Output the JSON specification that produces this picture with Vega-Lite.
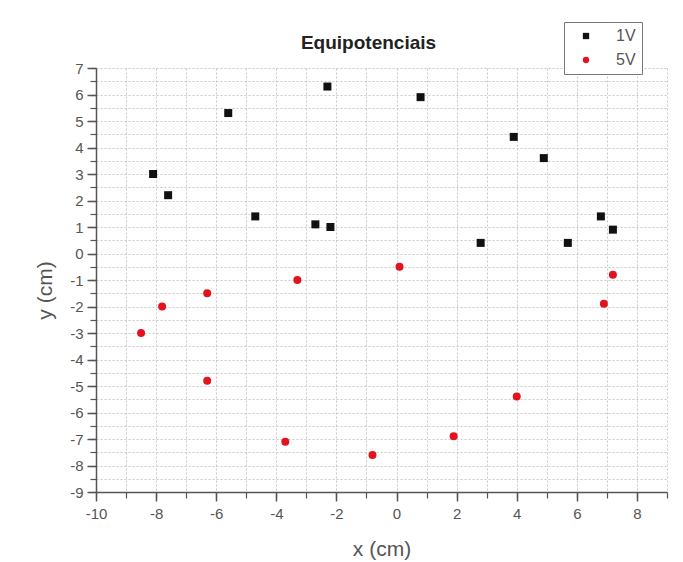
{
  "$schema": "https://vega.github.io/schema/vega-lite/v6.json",
  "width": 571,
  "height": 424,
  "autosize": {"type": "none"},
  "padding": {"left": 96, "top": 68, "right": 16, "bottom": 70},
  "background": "white",
  "config": {"view": {"stroke": null}, "font": "Liberation Sans"},
  "title": {"text": "Equipotenciais", "fontSize": 19, "font": "Liberation Sans", "fontWeight": "bold", "color": "#222", "offset": -31, "dx": -13},
  "data": {"values": [
    {"x": -8.1, "y": 3.0, "serie": "1V"},
    {"x": -7.6, "y": 2.2, "serie": "1V"},
    {"x": -5.6, "y": 5.3, "serie": "1V"},
    {"x": -4.7, "y": 1.4, "serie": "1V"},
    {"x": -2.7, "y": 1.1, "serie": "1V"},
    {"x": -2.2, "y": 1.0, "serie": "1V"},
    {"x": -2.3, "y": 6.3, "serie": "1V"},
    {"x": 0.8, "y": 5.9, "serie": "1V"},
    {"x": 2.8, "y": 0.4, "serie": "1V"},
    {"x": 3.9, "y": 4.4, "serie": "1V"},
    {"x": 4.9, "y": 3.6, "serie": "1V"},
    {"x": 5.7, "y": 0.4, "serie": "1V"},
    {"x": 6.8, "y": 1.4, "serie": "1V"},
    {"x": 7.2, "y": 0.9, "serie": "1V"},
    {"x": -8.5, "y": -3.0, "serie": "5V"},
    {"x": -7.8, "y": -2.0, "serie": "5V"},
    {"x": -6.3, "y": -1.5, "serie": "5V"},
    {"x": -6.3, "y": -4.8, "serie": "5V"},
    {"x": -3.3, "y": -1.0, "serie": "5V"},
    {"x": -3.7, "y": -7.1, "serie": "5V"},
    {"x": -0.8, "y": -7.6, "serie": "5V"},
    {"x": 0.1, "y": -0.5, "serie": "5V"},
    {"x": 1.9, "y": -6.9, "serie": "5V"},
    {"x": 4.0, "y": -5.4, "serie": "5V"},
    {"x": 6.9, "y": -1.9, "serie": "5V"},
    {"x": 7.2, "y": -0.8, "serie": "5V"}
  ]},
  "layer": [
    {
      "mark": {"type": "point", "filled": true, "opacity": 0, "size": 1},
      "encoding": {
        "x": {"field": "x", "type": "quantitative", "scale": {"domain": [-10, 9], "nice": false, "zero": false},
          "axis": {"orient": "bottom", "values": [-10,-9,-8,-7,-6,-5,-4,-3,-2,-1,0,1,2,3,4,5,6,7,8,9], "grid": true, "gridColor": "#c8c8c8", "gridDash": [2, 2], "gridWidth": 1, "labels": false, "domain": false, "ticks": true, "tickSize": 6, "tickColor": "#555", "tickWidth": 1.2, "title": null}},
        "y": {"field": "y", "type": "quantitative", "scale": {"domain": [-9, 7], "nice": false, "zero": false},
          "axis": {"orient": "left", "values": [-9,-8.5,-8,-7.5,-7,-6.5,-6,-5.5,-5,-4.5,-4,-3.5,-3,-2.5,-2,-1.5,-1,-0.5,0,0.5,1,1.5,2,2.5,3,3.5,4,4.5,5,5.5,6,6.5,7], "grid": true, "gridColor": "#c8c8c8", "gridDash": [2, 2], "gridWidth": 1, "labels": false, "domain": false, "ticks": true, "tickSize": 6, "tickColor": "#555", "tickWidth": 1.2, "title": null}}
      }
    },
    {
      "mark": {"type": "point", "filled": true, "opacity": 1, "size": 64, "strokeWidth": 0},
      "encoding": {
        "x": {"field": "x", "type": "quantitative", "scale": {"domain": [-10, 9], "nice": false, "zero": false},
          "axis": {"orient": "bottom", "values": [-10,-8,-6,-4,-2,0,2,4,6,8], "labelExpr": "'' + datum.value", "labelFlush": false, "grid": false, "domain": true, "domainColor": "#555", "domainWidth": 1.5, "tickSize": 9, "tickColor": "#555", "tickWidth": 1.5, "labelFontSize": 15, "labelColor": "#555", "labelPadding": 5, "title": "x (cm)", "titleFontSize": 21, "titleFontWeight": "normal", "titleColor": "#555", "titlePadding": 17}},
        "y": {"field": "y", "type": "quantitative", "scale": {"domain": [-9, 7], "nice": false, "zero": false},
          "axis": {"orient": "left", "values": [-9,-8,-7,-6,-5,-4,-3,-2,-1,0,1,2,3,4,5,6,7], "labelExpr": "'' + datum.value", "labelFlush": false, "grid": false, "domain": true, "domainColor": "#555", "domainWidth": 1.5, "tickSize": 9, "tickColor": "#555", "tickWidth": 1.5, "labelFontSize": 15, "labelColor": "#555", "labelPadding": 4, "title": "y (cm)", "titleFontSize": 21, "titleFontWeight": "normal", "titleColor": "#555", "titlePadding": 14, "titleY": 222}},
        "shape": {"field": "serie", "type": "nominal", "scale": {"domain": ["1V", "5V"], "range": ["square", "circle"]},
          "legend": {"orient": "none", "legendX": 468, "legendY": -46, "title": null, "strokeColor": "#777", "fillColor": "white", "padding": 6, "labelFontSize": 16, "labelColor": "#555", "symbolSize": 40, "rowPadding": 8, "symbolOffset": 8, "labelOffset": 22, "symbolStrokeWidth": 0}},
        "color": {"field": "serie", "type": "nominal", "scale": {"domain": ["1V", "5V"], "range": ["#111111", "#e3121d"]}}
      }
    }
  ],
  "resolve": {"axis": {"x": "independent", "y": "independent"}}
}
